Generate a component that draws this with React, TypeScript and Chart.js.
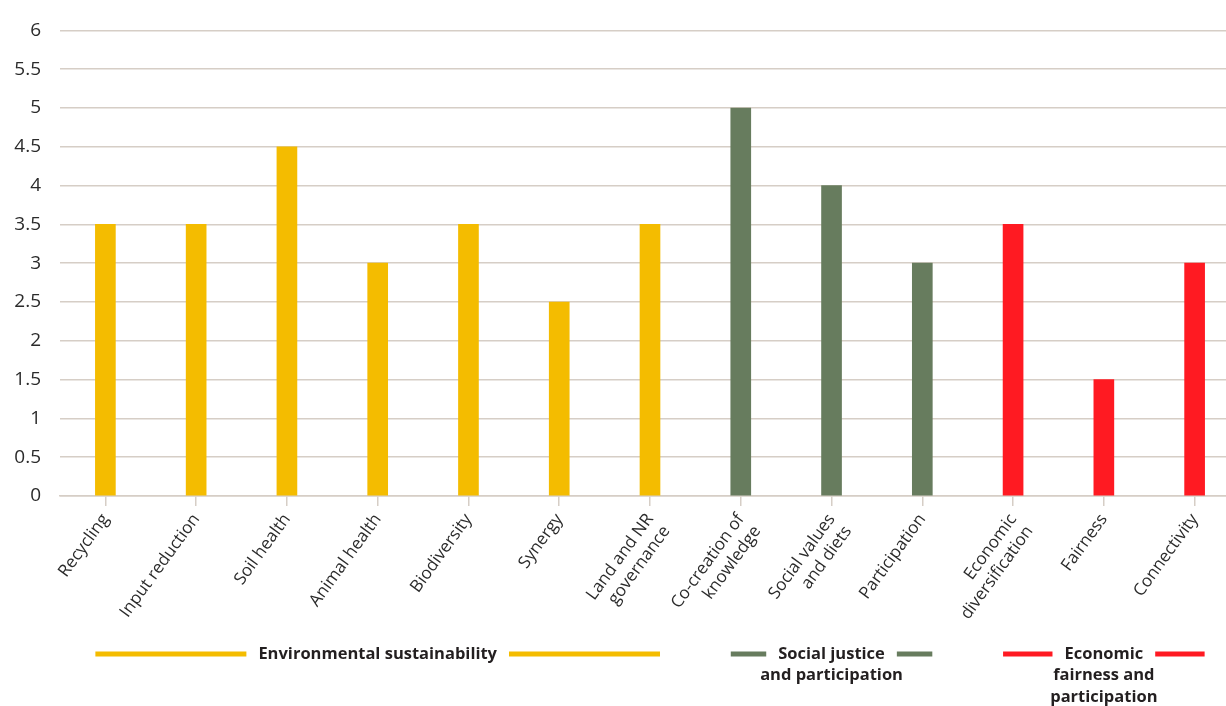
import React, { useEffect, useRef } from "react";
import { Chart, registerables } from "chart.js";

Chart.register(...registerables);

const categories: (string | string[])[] = [
  "Recycling",
  "Input reduction",
  "Soil health",
  "Animal health",
  "Biodiversity",
  "Synergy",
  ["Land and NR", "governance"],
  ["Co-creation of", "knowledge"],
  ["Social values", "and diets"],
  "Participation",
  ["Economic", "diversification"],
  "Fairness",
  "Connectivity",
];

const scores = [3.5, 3.5, 4.5, 3, 3.5, 2.5, 3.5, 5, 4, 3, 3.5, 1.5, 3];

const groupNames: string[][] = [
  ["Environmental sustainability"],
  ["Social justice", "and participation"],
  ["Economic", "fairness and", "participation"],
];
const groupFirst = [0, 7, 10];
const groupLast = [6, 9, 12];
const groupColors = ["#F4BC00", "#677C5E", "#FF1A22"];

const barGroup = [0, 0, 0, 0, 0, 0, 0, 1, 1, 1, 2, 2, 2];

const yTicks = [0, 0.5, 1, 1.5, 2, 2.5, 3, 3.5, 4, 4.5, 5, 5.5, 6];

const FONT = "'Open Sans', sans-serif";
const GRID = "#D6CEC6";
const TEXT = "#2B2B2B";

const groupPlugin = {
  id: "groupLegend",
  afterDraw(chart: any) {
    const ctx = chart.ctx;
    const xs = chart.scales.x;
    ctx.save();
    ctx.font = `bold 16.5px ${FONT}`;
    ctx.textAlign = "center";
    ctx.textBaseline = "middle";
    groupNames.forEach((lines, g) => {
      const x0 = xs.getPixelForValue(groupFirst[g]) - 10;
      const x1 = xs.getPixelForValue(groupLast[g]) + 10;
      const cx = (x0 + x1) / 2;
      const y0 = 654;
      const w = ctx.measureText(lines[0]).width;
      ctx.fillStyle = groupColors[g];
      ctx.fillRect(x0, y0 - 2.5, cx - w / 2 - 12 - x0, 5);
      ctx.fillRect(cx + w / 2 + 12, y0 - 2.5, x1 - (cx + w / 2 + 12), 5);
      ctx.fillStyle = "#231F20";
      lines.forEach((t, i) => ctx.fillText(t, cx, y0 + i * 21.5));
    });
    ctx.restore();
  },
};

export default function App() {
  const ref = useRef<HTMLCanvasElement | null>(null);
  useEffect(() => {
    if (!ref.current) return;
    const chart = new Chart(ref.current, {
      type: "bar",
      data: {
        labels: categories,
        datasets: [
          {
            data: scores,
            backgroundColor: scores.map((_, i) => groupColors[barGroup[i]]),
            barThickness: 20,
          },
        ],
      },
      options: {
        animation: false,
        responsive: false,
        maintainAspectRatio: false,
        layout: { padding: { top: 28, right: 0, left: 0, bottom: 0 } },
        plugins: { legend: { display: false }, tooltip: { enabled: false } },
        scales: {
          x: {
            afterFit: (s: any) => {
              s.height = 210;
            },
            grid: {
              drawOnChartArea: false,
              drawTicks: true,
              tickLength: 10,
              offset: false,
              color: GRID,
              lineWidth: 1.5,
            },
            border: { display: true, color: GRID, width: 1.5 },
            ticks: {
              minRotation: 54,
              maxRotation: 54,
              autoSkip: false,
              padding: 4,
              color: TEXT,
              font: { family: FONT, size: 17 },
              lineHeight: 1.3,
            },
          },
          y: {
            min: 0,
            max: 6,
            afterFit: (s: any) => {
              s.width = 60;
            },
            afterBuildTicks: (s: any) => {
              s.ticks = yTicks.map((v) => ({ value: v }));
            },
            grid: { drawTicks: false, color: GRID, lineWidth: 1.5 },
            border: { display: false },
            ticks: {
              padding: 19,
              color: TEXT,
              font: { family: FONT, size: 19 },
              callback: (v: any) => String(v),
            },
          },
        },
      },
      plugins: [groupPlugin],
    });
    return () => chart.destroy();
  }, []);
  return (
    <div
      style={{
        position: "fixed",
        left: 0,
        top: 0,
        width: 1226,
        height: 706,
        overflow: "hidden",
        background: "#fff",
      }}
    >
      <canvas ref={ref} width={1240} height={706} style={{ display: "block" }} />
    </div>
  );
}
